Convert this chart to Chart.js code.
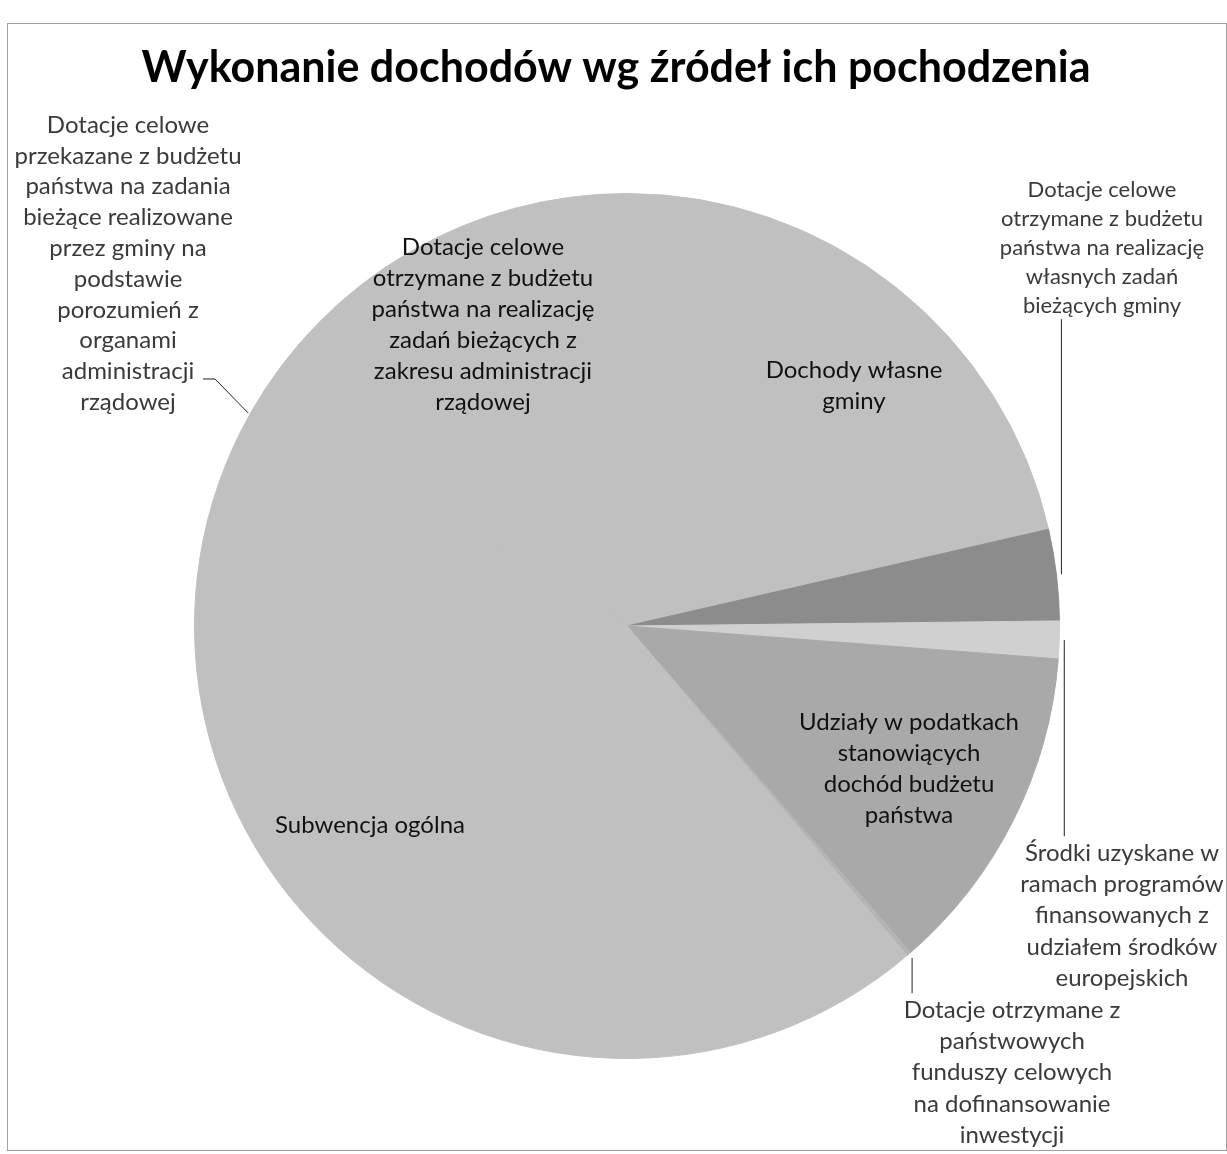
<!DOCTYPE html>
<html lang="pl">
<head>
<meta charset="utf-8">
<title>Wykonanie dochodów wg źródeł ich pochodzenia</title>
<script src="https://cdn.jsdelivr.net/npm/chart.js@4.4.1/dist/chart.umd.min.js"></script>
<style>
  html, body { margin: 0; padding: 0; background: #fff; }
  #wrap { width: 1227px; height: 1154px; position: relative; }
</style>
</head>
<body>
<div id="wrap"><canvas id="incomeChart"></canvas></div>
<script>
const chartTitle = 'Wykonanie dochodów wg źródeł ich pochodzenia';

// categories in the order of the slices (clockwise from 12 o'clock)
const categories = [
    ['Dochody własne', 'gminy'],
    ['Dotacje celowe', 'otrzymane z budżetu', 'państwa na realizację', 'własnych zadań', 'bieżących gminy'],
    ['Środki uzyskane w', 'ramach programów', 'finansowanych z', 'udziałem środków', 'europejskich'],
    ['Udziały w podatkach', 'stanowiących', 'dochód budżetu', 'państwa'],
    ['Dotacje otrzymane z', 'państwowych', 'funduszy celowych', 'na dofinansowanie', 'inwestycji'],
    ['Subwencja ogólna'],
    ['Dotacje celowe', 'przekazane z budżetu', 'państwa na zadania', 'bieżące realizowane', 'przez gminy na', 'podstawie', 'porozumień z', 'organami', 'administracji', 'rządowej'],
    ['Dotacje celowe', 'otrzymane z budżetu', 'państwa na realizację', 'zadań bieżących z', 'zakresu administracji', 'rządowej']
];

// share of total income, %
const shares = [21.4, 3.4, 1.4, 12.4, 0.17, 44.3, 0.08, 16.8];

const sliceColors = ['#c0c0c0', '#8c8c8c', '#d0d0d0', '#a9a9a9', '#b4b4b4', '#c0c0c0', '#c0c0c0', '#c0c0c0'];

// where each label sits: centre x, first line y, font size, line step, leader type
const labelLayout = [
    { x: 854, y: 370, size: 24, step: 31, inside: true },
    { x: 1102, y: 190, size: 22, step: 29, leader: 'down' },
    { x: 1122, y: 853, size: 24, step: 31.3, leader: 'up' },
    { x: 909, y: 722, size: 24, step: 31, inside: true },
    { x: 1012, y: 1010, size: 24, step: 31.3, leader: 'up' },
    { x: 370, y: 825, size: 24, step: 31, inside: true },
    { x: 128, y: 125, size: 24, step: 30.8, leader: 'elbow', ax: 203, ay: 379 },
    { x: 483, y: 247, size: 24, step: 31, inside: true }
];

const FONT = 'Lato, "Open Sans", sans-serif';

const sliceLabels = {
    id: 'sliceLabels',
    beforeDraw(chart) {
        const ctx = chart.ctx;
        ctx.save();
        ctx.strokeStyle = '#a0a0a0';
        ctx.lineWidth = 1;
        ctx.strokeRect(7.5, 23.5, 1219, 1127);
        // title drawn here so it is not squeezed into the padded width
        ctx.fillStyle = '#000';
        ctx.font = 'bold 43px ' + FONT;
        ctx.textAlign = 'center';
        ctx.textBaseline = 'middle';
        ctx.fillText(chartTitle, 616, 68);
        ctx.restore();
    },
    afterDatasetsDraw(chart) {
        const ctx = chart.ctx;
        const arcs = chart.getDatasetMeta(0).data;
        ctx.save();
        ctx.textAlign = 'center';
        ctx.textBaseline = 'middle';

        labelLayout.forEach((pos, i) => {
            const lines = categories[i];
            const lh = pos.step;
            ctx.font = pos.size + 'px ' + FONT;
            ctx.fillStyle = pos.inside ? '#111' : '#3a3a3a';
            lines.forEach((txt, k) => ctx.fillText(txt, pos.x, pos.y + k * lh));

            if (!pos.leader) return;
            const arc = arcs[i];
            const mid = (arc.startAngle + arc.endAngle) / 2;
            const r = arc.outerRadius + 5;
            const ex = arc.x + r * Math.cos(mid);
            const ey = arc.y + r * Math.sin(mid);

            ctx.strokeStyle = '#222';
            ctx.lineWidth = 1;
            ctx.beginPath();
            if (pos.leader === 'down') {
                const bottom = pos.y + (lines.length - 1) * lh + pos.size * 0.6;
                ctx.moveTo(ex, bottom);
                ctx.lineTo(ex, ey);
            } else if (pos.leader === 'up') {
                ctx.moveTo(ex, ey);
                ctx.lineTo(ex, pos.y - pos.size * 0.7);
            } else {
                ctx.moveTo(pos.ax, pos.ay);
                ctx.lineTo(pos.ax + 12, pos.ay);
                ctx.lineTo(arc.x + (arc.outerRadius + 2) * Math.cos(mid), arc.y + (arc.outerRadius + 2) * Math.sin(mid));
            }
            ctx.stroke();
        });
        ctx.restore();
    }
};

new Chart(document.getElementById('incomeChart'), {
    type: 'pie',
    data: {
        labels: categories,
        datasets: [{
            data: shares,
            backgroundColor: sliceColors,
            borderColor: sliceColors,
            borderWidth: 1
        }]
    },
    options: {
        responsive: true,
        maintainAspectRatio: false,
        animation: false,
        layout: {
            padding: { left: 194, right: 167, top: 193, bottom: 95 }
        },
        plugins: {
            legend: { display: false },
            tooltip: { enabled: false },
            title: { display: false }
        }
    },
    plugins: [sliceLabels]
});
</script>
</body>
</html>
